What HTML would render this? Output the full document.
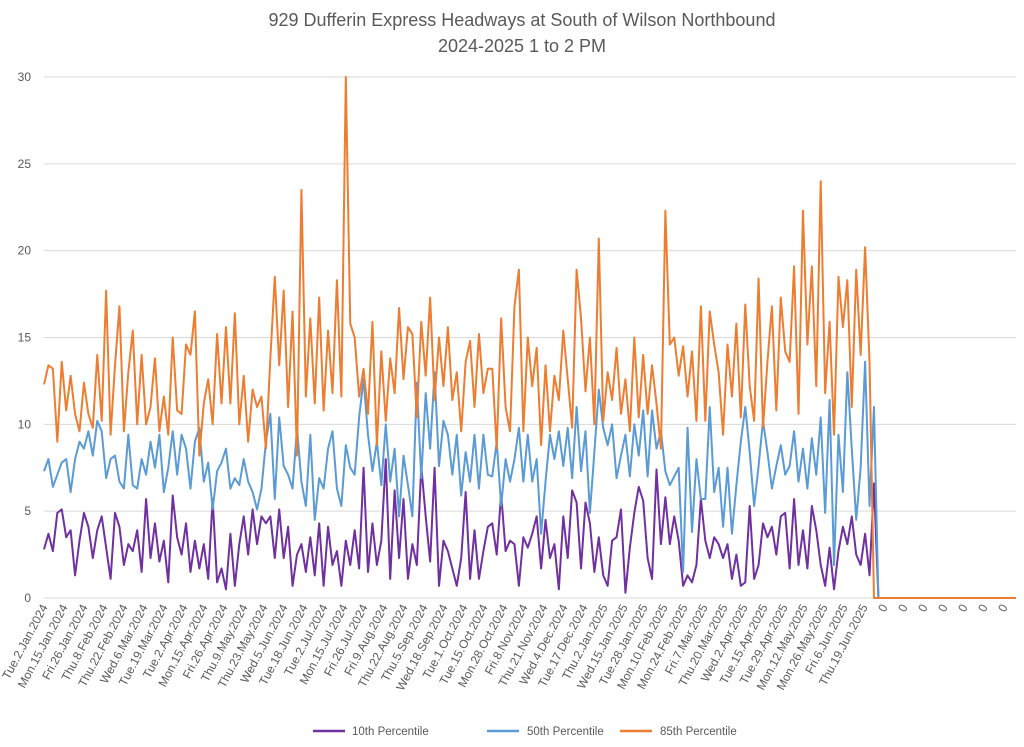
<!DOCTYPE html>
<html><head><meta charset="utf-8"><style>
html,body{margin:0;padding:0;background:#fff;}
svg{display:block;font-family:"Liberation Sans",sans-serif;}
</style></head><body>
<svg id="chart" width="1024" height="747" viewBox="0 0 1024 747" xmlns="http://www.w3.org/2000/svg">
<text x="522" y="26" text-anchor="middle" font-size="18" fill="#595959">929 Dufferin Express Headways at South of Wilson Northbound</text>
<text x="522" y="52" text-anchor="middle" font-size="18" fill="#595959">2024-2025 1 to 2 PM</text>
<g id="grid"></g>
<g id="yaxis"></g>
<g id="xaxis"></g>
<g id="series"></g>
<g>
<line x1="313" y1="731" x2="345" y2="731" stroke="#7030a0" stroke-width="2.5"/>
<text x="352" y="735" font-size="11.5" fill="#595959">10th Percentile</text>
<line x1="487" y1="731" x2="519" y2="731" stroke="#5b9bd5" stroke-width="2.5"/>
<text x="527" y="735" font-size="11.5" fill="#595959">50th Percentile</text>
<line x1="620" y1="731" x2="652" y2="731" stroke="#ed7d31" stroke-width="2.5"/>
<text x="660" y="735" font-size="11.5" fill="#595959">85th Percentile</text>
</g>
</svg>
<script>
const xLabels = ["Tue.2.Jan.2024","Mon.15.Jan.2024","Fri.26.Jan.2024","Thu.8.Feb.2024","Thu.22.Feb.2024","Wed.6.Mar.2024","Tue.19.Mar.2024","Tue.2.Apr.2024","Mon.15.Apr.2024","Fri.26.Apr.2024","Thu.9.May.2024","Thu.23.May.2024","Wed.5.Jun.2024","Tue.18.Jun.2024","Tue.2.Jul.2024","Mon.15.Jul.2024","Fri.26.Jul.2024","Fri.9.Aug.2024","Thu.22.Aug.2024","Thu.5.Sep.2024","Wed.18.Sep.2024","Tue.1.Oct.2024","Tue.15.Oct.2024","Mon.28.Oct.2024","Fri.8.Nov.2024","Thu.21.Nov.2024","Wed.4.Dec.2024","Tue.17.Dec.2024","Thu.2.Jan.2025","Wed.15.Jan.2025","Tue.28.Jan.2025","Mon.10.Feb.2025","Mon.24.Feb.2025","Fri.7.Mar.2025","Thu.20.Mar.2025","Wed.2.Apr.2025","Tue.15.Apr.2025","Tue.29.Apr.2025","Mon.12.May.2025","Mon.26.May.2025","Fri.6.Jun.2025","Thu.19.Jun.2025","0","0","0","0","0","0","0"];
const yTicks = [0,5,10,15,20,25,30];
const p10 = [2.8,3.7,2.7,4.9,5.1,3.5,3.9,1.3,3.3,4.9,4.1,2.3,3.9,4.7,2.9,1.1,4.9,4.1,1.9,3.1,2.7,3.9,1.5,5.7,2.3,4.3,2.1,3.3,0.9,5.9,3.5,2.5,4.3,1.5,3.3,1.7,3.1,1.1,5.7,0.9,1.7,0.5,3.7,0.7,3.1,4.7,2.5,5.1,3.1,4.7,4.3,
4.7,2.3,5.1,2.3,4.1,0.7,2.5,3.1,1.5,3.5,1.3,4.3,0.7,4.1,1.9,2.7,0.7,3.3,1.9,3.9,1.7,7.5,1.5,4.3,1.9,3.3,8,1.1,6.2,2.3,5.7,1.1,3.1,1.9,7.6,4.7,2.1,7.5,0.7,3.3,2.7,1.7,0.7,2.3,6.1,1.1,3.9,1.1,2.7,4.1,
4.3,2.5,6,2.7,3.3,3.1,0.7,3.5,2.9,3.7,4.7,1.7,4.5,2.3,3.1,0.5,4.7,2.3,6.2,5.5,1.7,5.5,4.3,1.5,3.5,1.3,0.7,3.3,3.5,5.1,0.3,2.9,4.9,6.4,5.6,2.3,1.1,7.4,3.1,5.8,3.1,4.7,3.3,0.7,1.3,0.9,1.9,5.7,3.3,2.3,
3.5,3.1,2.3,3.1,1.1,2.5,0.7,0.9,5.3,1.1,1.9,4.3,3.5,4.1,2.5,4.7,4.9,1.7,5.7,1.9,3.9,1.7,5.3,3.9,1.9,0.7,2.9,0.5,2.7,4.1,3.1,4.7,2.5,1.9,3.7,1.3,6.6];
const p50 = [7.3,8,6.4,7.1,7.8,8,6.1,8,9,8.6,9.6,8.2,10.2,9.6,6.9,8,8.2,6.7,6.3,9.4,6.5,6.3,8,7.1,9,7.5,9.4,6.1,7.5,9.6,7.1,9.4,8.6,6.3,9,9.8,6.7,7.8,5.1,7.3,7.8,8.6,6.3,6.9,6.5,8,6.7,6.1,5.1,6.3,9,
10.6,5.7,10.4,7.6,7.1,6.3,9.8,6.7,5.3,9.4,4.5,6.9,6.3,8.6,9.6,6.3,5.3,8.8,7.5,7.1,10.4,12.6,9.4,7.3,9,6.5,10,6.7,8.6,4.7,8.2,6.5,4.7,12.4,6.9,11.8,8.6,13,7.6,10.2,9.4,7.1,9.4,5.9,8.4,6.7,9.4,6.3,9.4,7.1,
7,9,5.3,8,6.7,8,9.8,6.7,9.4,6.7,8,3.7,6.7,9.4,8,9.6,7.6,9.8,6.9,11,7.3,9.6,4.9,8.4,12,9.8,8.8,10,6.9,8.2,9.4,7,10,8.2,10.8,7,10.8,8.6,9.6,7.3,6.5,7,7.5,1.5,9.8,3.8,8,5.7,5.7,11,
6.1,7.5,4.1,7.5,3.7,6.5,9,11,8.4,5.3,7.6,10.2,8.4,6.3,7.6,8.8,7.1,7.6,9.6,6.7,8.6,6.3,9.2,7.1,10.4,4.9,11.4,1.9,9.4,6.1,13,8.6,4.5,7.5,13.6,5.3,11];
const p85 = [12.3,13.4,13.2,9,13.6,10.8,12.8,10.6,9.6,12.4,10.6,9.8,14,10.2,17.7,9.4,13.4,16.8,9.6,13,15.4,10,14,10,11,13.8,9.6,11.6,9.4,15,10.8,10.6,14.6,14,16.5,8.2,11.2,12.6,10,15.2,11.2,15.6,11.2,16.4,10,12.8,9,12,11,11.6,8.6,
13.8,18.5,13.4,17.7,11,16.5,8.2,23.5,11.6,16.1,11.2,17.3,10.8,15.4,11.8,18.3,11.6,30,15.8,15,11.6,13.2,10.6,15.9,8.8,14.2,10.2,13.8,11.8,16.7,12.6,15.6,15.2,10.4,15.9,12.8,17.3,11.4,15,12.2,15.6,11.4,13,9.6,13.6,14.8,11,15.2,11.8,13.2,
13.2,8.6,16.1,11,9.6,16.8,18.9,9.6,15,12.2,14.4,8.8,13.4,9.6,12.8,11.4,15.4,12.6,9.8,18.9,16.1,11.9,15,10,20.7,10.2,13,11.4,14.4,10.6,12.6,9.6,15,10.4,14,10.6,13.4,11.2,8.6,22.3,14.6,15,12.8,14.5,11.6,14.2,10.2,16.8,10.2,16.5,
14.6,13,9.4,14.6,11.6,15.8,10.4,16.9,12.2,10.2,18.4,9.8,13.6,16.8,10.8,17.3,14.2,13.6,19.1,10.6,22.3,14.6,19.1,12.2,24,11.8,15.9,9.4,18.5,15.6,18.3,11,18.9,14,20.2,13.6];

const NS = "http://www.w3.org/2000/svg";
const X0 = 44, X1 = 1016, Y0 = 598, Y1 = 77;
const TOTAL = 220;
const xScale = i => X0 + i * (X1 - X0) / (TOTAL - 1);
const yScale = v => Y0 - v * (Y0 - Y1) / 30;
function mk(tag, attrs, parent) {
  const el = document.createElementNS(NS, tag);
  for (const k in attrs) el.setAttribute(k, attrs[k]);
  parent.appendChild(el);
  return el;
}
const grid = document.getElementById('grid');
const yaxis = document.getElementById('yaxis');
yTicks.forEach(t => {
  const y = yScale(t);
  const gl = mk('line', {x1: X0, x2: X1, y1: y, y2: y, stroke: '#d9d9d9', 'stroke-width': 1}, grid);
  
  
  const tx = mk('text', {x: 31, y: y + 4, 'text-anchor': 'end', 'font-size': 12, fill: '#595959'}, yaxis);
  tx.textContent = t;
  
  
});
const xaxis = document.getElementById('xaxis');
const labelStep = (X1 - X0) / 48.6;
xLabels.forEach((lab, i) => {
  const x = X0 + i * labelStep;
  const tx = mk('text', {x: x + 4, y: 607, 'text-anchor': 'end', 'font-size': 12, fill: '#595959', transform: 'rotate(-62 ' + (x + 4) + ' 607)'}, xaxis);
  tx.textContent = lab;
  
  
});
const series = document.getElementById('series');
[[p10, '#7030a0', 'line-10th-percentile'], [p50, '#5b9bd5', 'line-50th-percentile'], [p85, '#ed7d31', 'line-85th-percentile']].forEach(([arr, col, name]) => {
  const pts = [];
  for (let i = 0; i < TOTAL; i++) {
    const v = i < arr.length ? arr[i] : 0;
    pts.push(xScale(i).toFixed(2) + ',' + yScale(v).toFixed(2));
  }
  const pl = mk('polyline', {points: pts.join(' '), fill: 'none', stroke: col, 'stroke-width': 2, 'stroke-linejoin': 'round'}, series);
  
  
});
</script>
</body></html>
